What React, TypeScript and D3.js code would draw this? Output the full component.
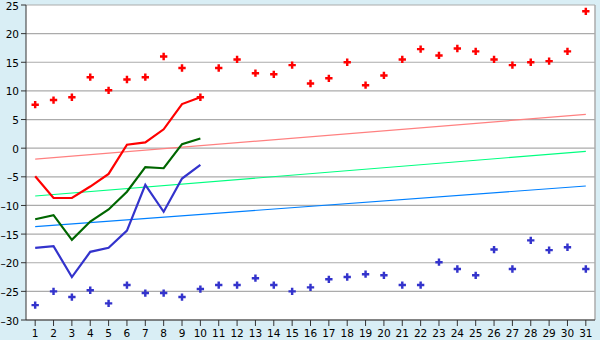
import React from "react";
import * as d3 from "d3";

const days = d3.range(1, 32).map(String);
const yTicks = [25, 20, 15, 10, 5, 0, -5, -10, -15, -20, -25, -30];

const maxPoints = [7.6, 8.4, 8.9, 12.4, 10.1, 12.0, 12.4, 16.0, 14.0, 8.9, 14.0, 15.5, 13.1, 12.9, 14.5, 11.3, 12.2, 15.0, 11.0, 12.7, 15.5, 17.3, 16.2, 17.4, 16.9, 15.5, 14.5, 15.0, 15.2, 16.9, 23.9];
const minPoints = [-27.4, -25.0, -26.0, -24.8, -27.1, -23.9, -25.3, -25.3, -26.0, -24.6, -23.9, -23.9, -22.7, -23.9, -25.0, -24.3, -22.9, -22.5, -22.0, -22.2, -23.9, -23.9, -19.9, -21.1, -22.2, -17.7, -21.1, -16.1, -17.8, -17.3, -21.1];

const maxLine = [-4.9, -8.7, -8.7, -6.7, -4.5, 0.6, 1.0, 3.3, 7.7, 8.9];
const meanLine = [-12.4, -11.7, -16.0, -12.8, -10.7, -7.6, -3.3, -3.5, 0.7, 1.7];
const minLine = [-17.4, -17.1, -22.5, -18.1, -17.4, -14.4, -6.4, -11.1, -5.3, -2.9];

const maxTrend = [-1.9, 5.9];
const meanTrend = [-8.35, -0.55];
const minTrend = [-13.7, -6.6];

const W = 600, H = 340;
const L = 26, R = 595, T = 5, B = 320;

export default function App() {
  const x = d3.scaleBand<string>().domain(days).range([L, R]).padding(0);
  const cx = (i: number) => (x(days[i]) as number) + x.bandwidth() / 2;
  const y = d3.scaleLinear().domain([-30, 25]).range([B, T]);
  const line = d3.line<number>().x((_, i) => cx(i)).y((d) => y(d));
  const trend = (t: number[]) => `M${cx(0)},${y(t[0])}L${cx(days.length - 1)},${y(t[1])}`;
  const cross = d3.symbol().type(d3.symbolCross).size(30)() as string;
  const font = "'DejaVu Sans', sans-serif";

  return (
    <svg width={W} height={H} style={{ position: "absolute", left: 0, top: 0 }}>
      <rect x={0} y={0} width={W} height={H} fill="#D9EEF5" />
      <rect x={L} y={T} width={R - L} height={B - T} fill="#ffffff" />
      {yTicks.map((t) => (
        <g key={t}>
          <line x1={L} x2={R} y1={y(t)} y2={y(t)} stroke="#ABABAB" strokeWidth={1.2} />
          <line x1={L - 5} x2={L} y1={y(t)} y2={y(t)} stroke="#333" strokeWidth={1} />
          <text x={L - 7} y={y(t) + 4.5} textAnchor="end" fontSize={10.5} fontFamily={font} fill="#000">
            {t < 0 ? "\u2013" + Math.abs(t) : t}
          </text>
        </g>
      ))}
      <line x1={R} x2={R} y1={T} y2={B} stroke="#ABABAB" strokeWidth={1.5} />
      {days.map((d, i) => (
        <g key={d}>
          <line x1={cx(i)} x2={cx(i)} y1={B} y2={B + 6} stroke="#333" strokeWidth={1} />
          <text x={cx(i)} y={337} textAnchor="middle" fontSize={10.5} fontFamily={font} fill="#000">
            {d}
          </text>
        </g>
      ))}
      <path d={trend(maxTrend)} stroke="#FF8080" strokeWidth={1.2} fill="none" />
      <path d={trend(meanTrend)} stroke="#00FF80" strokeWidth={1.2} fill="none" />
      <path d={trend(minTrend)} stroke="#0080FF" strokeWidth={1.2} fill="none" />
      <path d={line(maxLine) as string} stroke="#FF0000" strokeWidth={2.2} fill="none" />
      <path d={line(meanLine) as string} stroke="#006600" strokeWidth={2.2} fill="none" />
      <path d={line(minLine) as string} stroke="#3333CC" strokeWidth={2.2} fill="none" />
      {maxPoints.map((v, i) => (
        <path key={"mx" + i} d={cross} transform={`translate(${cx(i)},${y(v)})`} fill="#FF0000" />
      ))}
      {minPoints.map((v, i) => (
        <path key={"mn" + i} d={cross} transform={`translate(${cx(i)},${y(v)})`} fill="#3333CC" />
      ))}
      <line x1={L} x2={L} y1={T} y2={B} stroke="#333" strokeWidth={1} />
      <line x1={L} x2={R} y1={B} y2={B} stroke="#333" strokeWidth={1} />
    </svg>
  );
}
